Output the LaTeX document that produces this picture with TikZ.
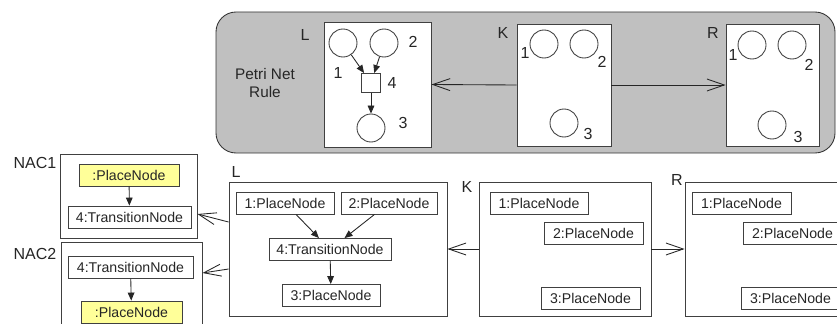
\documentclass[tikz,border=0pt]{standalone}
\usepackage{fontspec}
\setmainfont{Liberation Sans}
\usetikzlibrary{arrows.meta}
\definecolor{rulegray}{RGB}{192,192,192}
\definecolor{nacyellow}{RGB}{255,255,153}

\begin{document}
\begin{tikzpicture}[x=0.75pt, y=-0.75pt, line width=0.65pt,
    every node/.style={font=\fontsize{10.6}{12}\selectfont, text=black!85},
    biglab/.style={font=\fontsize{12}{14}\selectfont},
    graphbox/.style={draw=black!75, fill=white, inner sep=0pt},
    elem/.style={draw=black!75, fill=white, minimum height=16.5pt, inner sep=0pt},
    forbidden/.style={elem, fill=nacyellow},
    placecirc/.style={draw=black!75, fill=white, circle, minimum size=21pt, inner sep=0pt},
    transsq/.style={draw=black!75, fill=white, minimum size=14.25pt, inner sep=0pt},
    tokenarc/.style={-{Triangle[length=6pt, width=5pt]}, black!85},
    morph/.style={-{Straight Barb[length=13pt, width=9pt]}, black!85}]
    \useasboundingbox (0,0) rectangle (837,324);
    \clip (0,0) rectangle (837,324);
    \node[draw=black!80, fill=rulegray, rounded corners=15pt, minimum width=464.25pt, minimum height=105.75pt, inner sep=0pt] (rule) at (525.5,82.5) {};
    \node[align=center, font=\fontsize{11.5}{14}\selectfont] (rulelab) at (265,83) {Petri Net\\Rule};
    \node[graphbox, minimum width=80.25pt, minimum height=93.75pt] (lt) at (377.5,84.5) {};
    \node[graphbox, minimum width=70.5pt, minimum height=91.5pt] (kt) at (564,85) {};
    \node[graphbox, minimum width=69.75pt, minimum height=91.5pt] (rt) at (772.5,85) {};
    \node[biglab] (ltlab) at (305,35) {L};
    \node[biglab] (ktlab) at (503,33) {K};
    \node[biglab] (rtlab) at (713,33) {R};
    \node[placecirc] (lp1) at (343,43) {};
    \node[placecirc] (lp2) at (384,43) {};
    \node[transsq] (lt4) at (371,83) {};
    \node[placecirc] (lp3) at (371,128) {};
    \node[biglab] (lp1lab) at (338,73) {1};
    \node[biglab] (lp2lab) at (413,42) {2};
    \node[biglab] (lt4lab) at (392,83) {4};
    \node[biglab] (lp3lab) at (403,123) {3};
    \draw[tokenarc] (lp1) -- (lt4);
    \draw[tokenarc] (lp2) -- (lt4);
    \draw[tokenarc] (lt4) -- (lp3);
    \node[placecirc] (kp1) at (544,44) {};
    \node[placecirc] (kp2) at (584,44) {};
    \node[placecirc] (kp3) at (564,123) {};
    \node[biglab] (kp1lab) at (525,53) {1};
    \node[biglab] (kp2lab) at (602,62) {2};
    \node[biglab] (kp3lab) at (588,134) {3};
    \node[placecirc] (rp1) at (752,45) {};
    \node[placecirc] (rp2) at (792,45) {};
    \node[placecirc] (rp3) at (772,125) {};
    \node[biglab] (rp1lab) at (733,55) {1};
    \node[biglab] (rp2lab) at (809,65) {2};
    \node[biglab] (rp3lab) at (798,137) {3};
    \draw[morph] (kt.west) -- (lt.east);
    \draw[morph] (kt.east) -- (rt.west);
    \node[graphbox, minimum width=163.5pt, minimum height=100.5pt] (lb) at (338,249) {};
    \node[graphbox, minimum width=129pt, minimum height=100.5pt] (kb) at (565,249) {};
    \node[graphbox, minimum width=129pt, minimum height=100.5pt] (rb) at (771,249) {};
    \node[biglab] (lblab) at (236,172) {L};
    \node[biglab] (kblab) at (467,187) {K};
    \node[biglab] (rblab) at (677,180) {R};
    \node[elem, minimum width=73.5pt] (ln1) at (285,203) {1:PlaceNode};
    \node[elem, minimum width=72pt] (ln2) at (389,203) {2:PlaceNode};
    \node[elem, minimum width=91.5pt] (ln4) at (330,249.5) {4:TransitionNode};
    \node[elem, minimum width=73.5pt] (ln3) at (331,295.5) {3:PlaceNode};
    \draw[tokenarc] (ln1) -- (ln4);
    \draw[tokenarc] (ln2) -- (ln4);
    \draw[tokenarc] (ln4) -- (ln3);
    \node[elem, minimum width=73.5pt] (kn1) at (539,203) {1:PlaceNode};
    \node[elem, minimum width=74.25pt] (kn2) at (593.5,233) {2:PlaceNode};
    \node[elem, minimum width=74.25pt] (kn3) at (590.5,298.5) {3:PlaceNode};
    \node[elem, minimum width=74.25pt] (rn1) at (741.5,203) {1:PlaceNode};
    \node[elem, minimum width=74.25pt] (rn2) at (792.5,233) {2:PlaceNode};
    \node[elem, minimum width=74.25pt] (rn3) at (790.5,298.5) {3:PlaceNode};
    \draw[morph] (kb.west) -- (lb.east);
    \draw[morph] (kb.east) -- (rb.west);
    \node[graphbox, minimum width=102.75pt, minimum height=63pt] (nac1) at (128.5,196) {};
    \node[graphbox, minimum width=105.75pt, minimum height=69pt] (nac2) at (131.5,288) {};
    \node[biglab] (nac1lab) at (35,163) {NAC1};
    \node[biglab] (nac2lab) at (35,254) {NAC2};
    \node[forbidden, minimum width=75pt] (na1) at (129,175) {:PlaceNode};
    \node[elem, minimum width=92.25pt] (na4) at (129.5,217) {4:TransitionNode};
    \draw[tokenarc] (na1) -- (na4);
    \node[elem, minimum width=93.75pt] (nb4) at (130.5,267.5) {4:TransitionNode};
    \node[forbidden, minimum width=75.75pt] (nb1) at (131.5,312) {:PlaceNode};
    \draw[tokenarc] (nb4) -- (nb1);
    \draw[morph] ([yshift=20.25pt]lb.west) -- ([yshift=-13.5pt]nac1.east);
    \draw[morph] ([yshift=-15pt]lb.west) -- ([yshift=11.25pt]nac2.east);
  \end{tikzpicture}
\end{document}
